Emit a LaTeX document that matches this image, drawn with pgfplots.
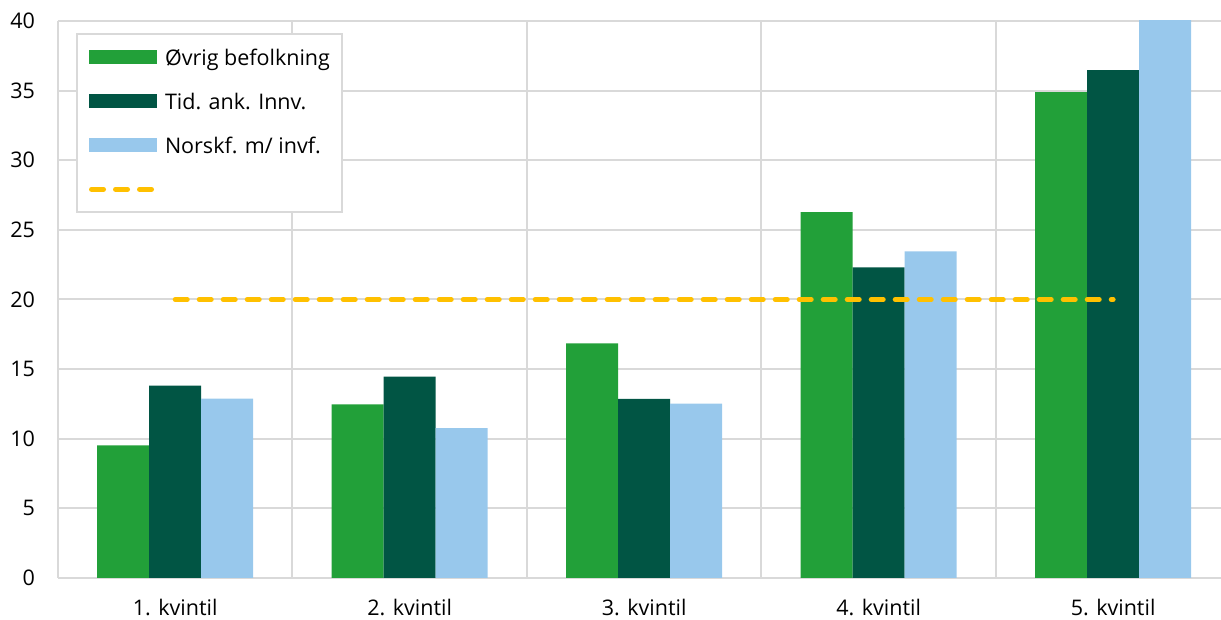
\documentclass[border=0pt]{standalone}
\usepackage{fontspec}
\setmainfont{Open Sans}
\usepackage{pgfplots}
\pgfplotsset{compat=1.18}
\definecolor{cgreen}{HTML}{22A039}
\definecolor{cdark}{HTML}{015544}
\definecolor{clight}{HTML}{98C8EC}
\definecolor{cyellow}{HTML}{FFC000}
\definecolor{cgrid}{HTML}{D9D9D9}
\newcommand\ls{\rule[-3pt]{0pt}{12.5pt}\hspace{4pt}}
\begin{document}
\begin{tikzpicture}
\begin{axis}[
  at={(0pt,0pt)}, anchor=south west,
  scale only axis,
  width=581.5pt, height=278.5pt,
  xmin=-0.5, xmax=4.46,
  ymin=0, ymax=40,
  clip=true,
  ybar=0pt,
  bar width=26pt,
  xtick={0,1,2,3,4},
  xticklabels={1. kvintil,2. kvintil,3. kvintil,4. kvintil,5. kvintil},
  extra x ticks={0.5,1.5,2.5,3.5},
  extra x tick labels={},
  extra x tick style={grid=major, major grid style={cgrid, line width=1pt}},
  ytick={0,5,...,40},
  ymajorgrids,
  major grid style={cgrid, line width=1pt},
  axis x line*=bottom,
  axis y line*=left,
  axis line style={cgrid, line width=1pt, -},
  major tick length=0pt,
  tick style={draw=none},
  /pgf/number format/assume math mode=true,
  tick label style={font=\fontsize{10.75}{13}\selectfont, text=black},
  yticklabel style={xshift=-8pt},
  xticklabel style={yshift=-7pt},
  legend style={
    at={(rel axis cs:0.0155,0.978)}, anchor=north west,
    draw=cgrid, line width=1pt,
    font=\fontsize{10.75}{13}\selectfont,
    inner xsep=6pt, inner ysep=4pt,
    row sep=7pt,
    nodes={inner xsep=0pt},
  },
  legend cell align=left,
]
\addplot[fill=cgreen, draw=none, area legend,
  legend image code/.code={\fill[cgreen] (0pt,-3.5pt) rectangle (34pt,3.5pt);}]
  coordinates {(0,9.52) (1,12.46) (2,16.84) (3,26.28) (4,34.89)};
\addlegendentry{\ls Øvrig befolkning}
\addplot[fill=cdark, draw=none, area legend,
  legend image code/.code={\fill[cdark] (0pt,-3.5pt) rectangle (34pt,3.5pt);}]
  coordinates {(0,13.82) (1,14.47) (2,12.87) (3,22.31) (4,36.47)};
\addlegendentry{\ls Tid. ank. Innv.}
\addplot[fill=clight, draw=none, area legend,
  legend image code/.code={\fill[clight] (0pt,-3.5pt) rectangle (34pt,3.5pt);}]
  coordinates {(0,12.89) (1,10.76) (2,12.53) (3,23.46) (4,41)};
\addlegendentry{\ls Norskf. m/ invf.}
\addplot[sharp plot, cyellow, line width=2.5pt, line cap=round,
  dash pattern=on 6pt off 6pt, bar shift=0pt,
  legend image code/.code={\draw[cyellow, line width=2.5pt, line cap=round, dash pattern=on 6pt off 6pt] (1.25pt,0pt) -- (32pt,0pt);}]
  coordinates {(0,20) (1,20) (2,20) (3,20) (4,20)};
\addlegendentry{\ls}
\end{axis}
\pgfresetboundingbox
\path[use as bounding box] (-29pt,-21pt) rectangle (581.5pt,289pt);
\end{tikzpicture}
\end{document}
